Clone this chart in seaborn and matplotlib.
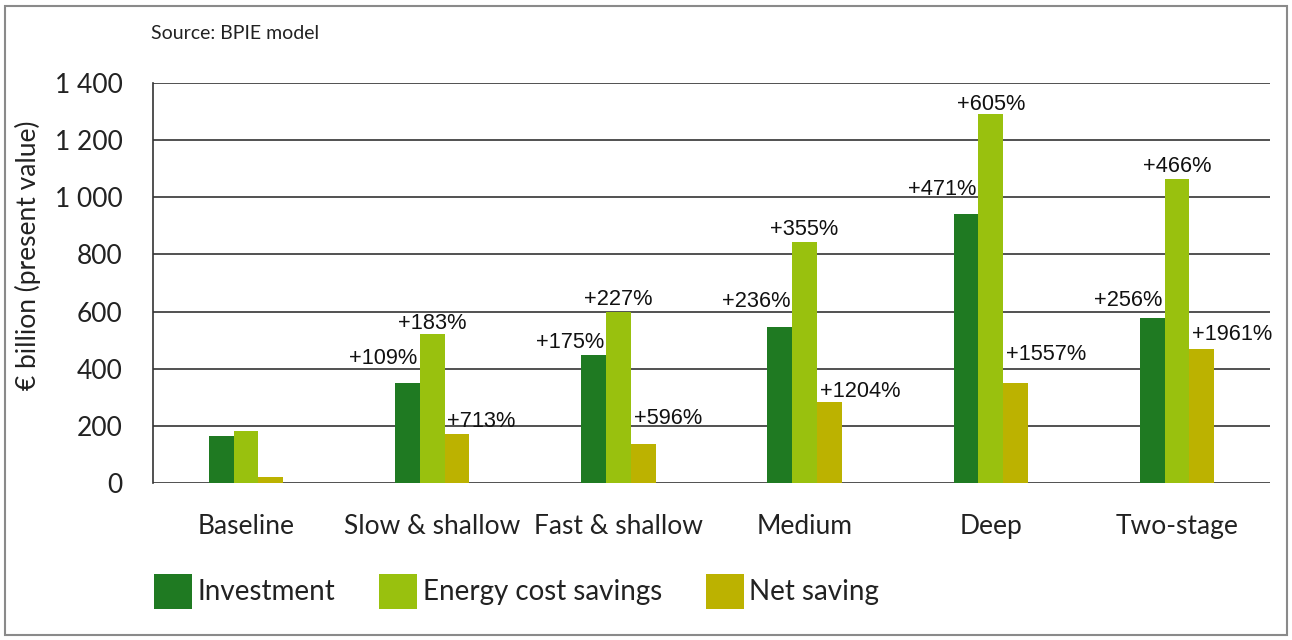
import matplotlib
matplotlib.use("Agg")
import matplotlib.pyplot as plt
import seaborn as sns
import pandas as pd
from matplotlib.patches import Rectangle

categories = ["Baseline", "Slow & shallow", "Fast & shallow", "Medium", "Deep", "Two-stage"]
series_names = ["Investment", "Energy cost savings", "Net saving"]
investment = [165, 349, 448, 547, 940, 576]
energy_savings = [183, 521, 600, 842, 1290, 1063]
net_saving = [21, 170, 137, 285, 349, 468]
inv_labels = ["", "+109%", "+175%", "+236%", "+471%", "+256%"]
energy_labels = ["", "+183%", "+227%", "+355%", "+605%", "+466%"]
net_labels = ["", "+713%", "+596%", "+1204%", "+1557%", "+1961%"]
yticks = [0, 200, 400, 600, 800, 1000, 1200, 1400]
ytick_labels = ["0", "200", "400", "600", "800", "1 000", "1 200", "1 400"]

colors = ["#1f7a22", "#99c10e", "#bcb200"]

# vertical label gaps above bar tops (points), as in the hand-placed original
label_gaps = [
    [0, 14, 5, 14, 14, 9],
    [0, 3.5, 5, 5.5, 3, 5.5],
    [0, 5.5, 14, 3.5, 16.5, 6.5],
]

rows = []
for s, vals in zip(series_names, [investment, energy_savings, net_saving]):
    for c, v in zip(categories, vals):
        rows.append({"Scenario": c, "Series": s, "Value": v})
df = pd.DataFrame(rows)

sns.set_theme(style="white")
plt.rcParams["font.family"] = ["Lato", "DejaVu Sans"]

fig = plt.figure(figsize=(12.92, 6.4), dpi=100)
ax = fig.add_axes([0.1184, 0.2453, 0.8646, 0.625])

sns.barplot(data=df, x="Scenario", y="Value", hue="Series", order=categories,
            hue_order=series_names, palette=colors, width=0.4, saturation=1,
            ax=ax, legend=True, linewidth=0)

ax.set_ylim(0, 1400)
ax.set_yticks(yticks)
ax.set_yticklabels(ytick_labels)
ax.yaxis.grid(True, color="#333333", linewidth=1.2)
ax.set_axisbelow(True)
for sp in ["right", "bottom", "top"]:
    ax.spines[sp].set_visible(False)
ax.spines["left"].set_color("#333333")
ax.spines["left"].set_linewidth(1.2)
ax.tick_params(axis="both", length=0, colors="#222222")
ax.tick_params(axis="y", pad=22, labelsize=19)
ax.tick_params(axis="x", pad=22, labelsize=19)
ax.set_xlabel("")
ax.set_ylabel("€ billion (present value)", fontsize=19, color="#222222")
ax.yaxis.set_label_coords(-0.1, 0.57)
ax.set_xlim(-0.5, 5.5)

lab_font = dict(family=["Liberation Sans", "DejaVu Sans"], fontsize=15.7, color="#111111")
containers = ax.containers
for ci, (cont, labels) in enumerate(zip(containers, [inv_labels, energy_labels, net_labels])):
    for bi, (bar, lab) in enumerate(zip(cont.patches, labels)):
        if not lab:
            continue
        top = bar.get_height()
        gap = label_gaps[ci][bi]
        if ci == 0:
            ax.annotate(lab, (bar.get_x() + bar.get_width(), top), xytext=(-1.5, gap),
                        textcoords="offset points", ha="right", va="baseline", **lab_font)
        elif ci == 1:
            ax.annotate(lab, (bar.get_x() + bar.get_width() / 2, top), xytext=(0, gap),
                        textcoords="offset points", ha="center", va="baseline", **lab_font)
        else:
            ax.annotate(lab, (bar.get_x(), top), xytext=(2, gap),
                        textcoords="offset points", ha="left", va="baseline", **lab_font)

handles, labels = ax.get_legend_handles_labels()
ax.legend_.remove()
fig.legend(handles, labels, loc="center left", bbox_to_anchor=(0.1, 0.076),
           ncol=3, frameon=False, fontsize=20, handlelength=1.35, handleheight=1.6,
           handletextpad=0.2, columnspacing=1.6, labelcolor="#222222")

fig.text(0.117, 0.948, "Source: BPIE model", fontsize=14, color="#222222", va="center")

fig.patches.append(Rectangle((0.004, 0.008), 0.992, 0.982, transform=fig.transFigure,
                             fill=False, edgecolor="#8a8a8a", linewidth=1.5))

fig.savefig("out.png", dpi=100)
